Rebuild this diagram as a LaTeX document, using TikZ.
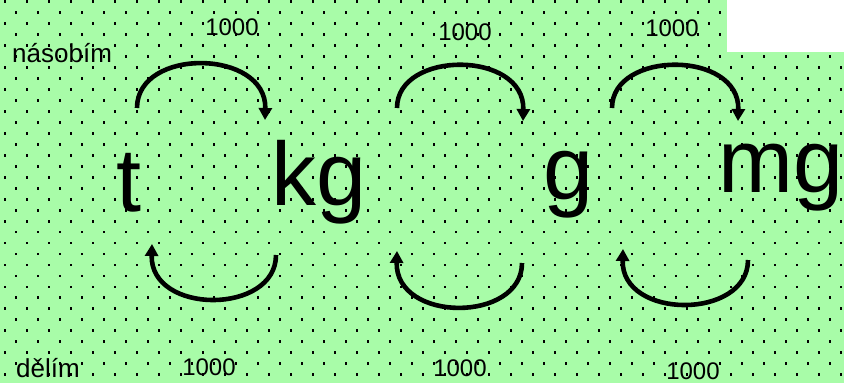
\documentclass[tikz,border=0pt]{standalone}
\usepackage{fontspec}
\setmainfont{Liberation Sans}
\usepackage{tikz}
\usetikzlibrary{arrows.meta,positioning}

\definecolor{bggreen}{RGB}{168,252,168}

\begin{document}
\begin{tikzpicture}[x=1pt, y=-1pt,
  unit/.style={inner sep=0pt, anchor=base west,
               font=\fontsize{90}{90}\selectfont},
  word/.style={inner sep=0pt, anchor=base west,
               font=\fontsize{26}{26}\selectfont},
  factor/.style={inner sep=0pt, font=\fontsize{24}{24}\selectfont},
  arc/.style={line width=4.6pt, -{Triangle[length=12pt,width=13pt]}}
]
\path[use as bounding box] (0,0) rectangle (844,383);
\fill[bggreen] (0,0) rectangle (844,383);
% dotted pattern
\begin{scope}
\clip (0,0) rectangle (844,383);
\foreach \k in {0,...,34}{
  \pgfmathsetmacro\dy{1.7+10.97*\k}
  \pgfmathsetmacro\dx{mod(\k,2)==0 ? 5 : 16}
  \foreach \j in {0,...,38}
    \fill (\dx+22*\j,\dy) +(-1.4,-1.4) rectangle +(1.4,1.4);
}
\end{scope}
\fill[white] (727,0) rectangle (844,51.5);

\node[word] (mult) at (12,62) {násobím};
\node[word] (div) at (16,377) {dělím};

\node[unit] (t) at (116.5,211) {t};
\node[unit] (kg) at (271,205) {kg};
\node[unit] (g) at (543,199) {g};
\node[unit] (mg) at (718,192) {mg};

% upper arcs
\coordinate (up1s) at (137,108);
\coordinate (up1e) at (265,120);
\coordinate (up2s) at (397,108);
\coordinate (up2e) at (523,121);
\coordinate (up3s) at (612,108);
\coordinate (up3e) at (738,121);
\draw[arc] (up1s) .. controls (137,47) and (267,49) .. (up1e);
\draw[arc] (up2s) .. controls (397,50) and (525,50) .. (up2e);
\draw[arc] (up3s) .. controls (612,50) and (740,50) .. (up3e);

% lower arcs
\coordinate (lo1s) at (276,255);
\coordinate (lo1e) at (152,244);
\coordinate (lo2s) at (522,263);
\coordinate (lo2e) at (397,251);
\coordinate (lo3s) at (748,260);
\coordinate (lo3e) at (623,249);
\draw[arc] (lo1s) .. controls (276,315) and (150,315) .. (lo1e);
\draw[arc] (lo2s) .. controls (522,323) and (395,323) .. (lo2e);
\draw[arc] (lo3s) .. controls (748,320) and (621,320) .. (lo3e);

\node[factor] (f1) at (232,27) {1000};
\node[factor] (f2) at (465,32) {1000};
\node[factor] (f3) at (672,28) {1000};
\node[factor] (f4) at (209,367) {1000};
\node[factor] (f5) at (460,368) {1000};
\node[factor] (f6) at (693,371) {1000};
\end{tikzpicture}
\end{document}
